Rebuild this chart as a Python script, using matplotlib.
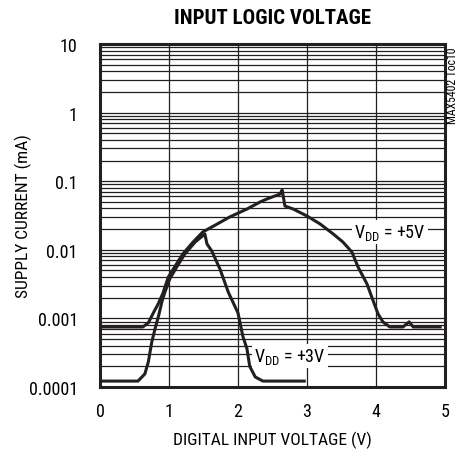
import matplotlib
matplotlib.use('Agg')
import matplotlib.pyplot as plt
from matplotlib import ticker, font_manager
import numpy as np


def pick_font(names):
    for name in names:
        try:
            font_manager.findfont(font_manager.FontProperties(family=name), fallback_to_default=False)
            return name
        except Exception:
            pass
    return 'DejaVu Sans'


narrow = pick_font(['Liberation Sans Narrow', 'Roboto Condensed', 'Arial Narrow', 'Liberation Sans'])
font = {'family': [narrow, 'DejaVu Sans'], 'size': 13}
matplotlib.rc('font', **font)

# VDD = +5V trace (V, mA)
v5_x = [0.0, 0.62, 0.70, 0.78, 0.84, 0.91, 0.99, 1.09, 1.20, 1.35, 1.49, 1.70, 1.88, 2.13,
        2.32, 2.42, 2.61, 2.64, 2.68, 2.80, 3.00, 3.19, 3.38, 3.52, 3.65, 3.74, 3.87, 3.96,
        4.03, 4.10, 4.20, 4.39, 4.48, 4.54, 4.93]
v5_y = [0.00075, 0.00075, 0.00086, 0.00124, 0.0016, 0.0023, 0.0040, 0.0058, 0.0087, 0.0130,
        0.0182, 0.0238, 0.0301, 0.0393, 0.0498, 0.0551, 0.065, 0.0744, 0.0435, 0.0393, 0.0311,
        0.0238, 0.0170, 0.0130, 0.0093, 0.0056, 0.00317, 0.00179, 0.00116, 0.00089, 0.00075,
        0.00075, 0.00089, 0.00075, 0.00075]

# VDD = +3V trace (V, mA)
v3_x = [0.0, 0.55, 0.65, 0.70, 0.75, 0.80, 0.85, 0.90, 0.94, 1.01, 1.12, 1.23, 1.38, 1.52,
        1.55, 1.62, 1.74, 1.86, 2.00, 2.07, 2.13, 2.17, 2.25, 2.36, 2.96]
v3_y = [0.000122, 0.000122, 0.000155, 0.000231, 0.00045, 0.00072, 0.0011, 0.0018, 0.0024,
        0.00375, 0.0058, 0.0087, 0.013, 0.017, 0.0122, 0.0096, 0.0052, 0.0024, 0.0012,
        0.00055, 0.00036, 0.0002, 0.00014, 0.000122, 0.000122]

fig = plt.figure(figsize=(4.58, 4.52), dpi=100)
ax = fig.add_axes([100 / 458, 1 - 388 / 452, 345 / 458, 343 / 452])

ax.plot(v5_x, v5_y, color='#231f20', lw=2.2, solid_joinstyle='round', zorder=3)
ax.plot(v3_x, v3_y, color='#231f20', lw=2.2, solid_joinstyle='round', zorder=3)

ax.set_yscale('log')
ax.set_xlim(0, 5)
ax.set_ylim(0.0001, 10)
ax.set_xticks([0, 1, 2, 3, 4, 5])
ax.set_yticks([0.0001, 0.001, 0.01, 0.1, 1, 10])
ax.set_yticklabels(['0.0001', '0.001', '0.01', '0.1', '1', '10'])
ax.yaxis.set_minor_locator(ticker.LogLocator(base=10, subs=np.arange(2, 10), numticks=20))
ax.yaxis.set_minor_formatter(ticker.NullFormatter())
ax.tick_params(which='both', length=0)
ax.tick_params(axis='y', pad=16)
ax.tick_params(axis='x', pad=11)
ax.grid(True, which='major', color='#231f20', lw=0.9)
ax.grid(True, which='minor', axis='y', color='#231f20', lw=0.9)
for s in ax.spines.values():
    s.set_linewidth(2.2)
    s.set_color('#231f20')
    s.set_zorder(4)

ax.set_xlabel('DIGITAL INPUT VOLTAGE (V)', fontsize=12.5)
ax.set_ylabel('SUPPLY CURRENT (mA)', fontsize=12.5)
ax.xaxis.set_label_coords(0.5, -44 / 343)
ax.yaxis.set_label_coords(-68 / 345, 0.5)

ax.text(4.2, 0.018, 'V$_{\\mathregular{DD}}$ = +5V', ha='center', va='center', fontsize=13,
        bbox=dict(facecolor='white', edgecolor='none', pad=1.5), zorder=5)
ax.text(2.75, 0.00028, 'V$_{\\mathregular{DD}}$ = +3V', ha='center', va='center', fontsize=13,
        bbox=dict(facecolor='white', edgecolor='none', pad=1.5), zorder=5)

fig.text(272 / 458, 1 - 18 / 452, 'INPUT LOGIC VOLTAGE', ha='center', va='center',
         fontsize=15, fontweight='heavy')
fig.text(453 / 458, 1 - 47 / 452, 'MAX5402 Toc10', rotation=90, ha='center', va='top',
         fontsize=8.5)

plt.savefig('out.png', dpi=100)
